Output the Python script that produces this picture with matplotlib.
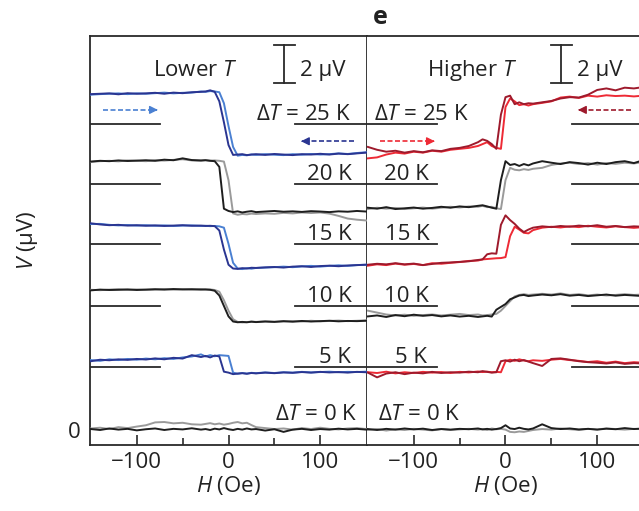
import numpy as np
import matplotlib
matplotlib.use('Agg')
import matplotlib.pyplot as plt

plt.rcParams['font.family'] = ['Open Sans', 'DejaVu Sans']
plt.rcParams['mathtext.fontset'] = 'custom'
plt.rcParams['mathtext.rm'] = 'Open Sans'
plt.rcParams['mathtext.it'] = 'Open Sans:italic'

# field sweep points (Oe)
H = [-150, -140, -130, -120, -110, -100, -90, -80, -70, -60, -50, -40, -30, -25, -20, -15,
     -10, -5, 0, 5, 10, 15, 20, 25, 30, 40, 50, 60, 70, 80, 90, 100, 110, 120, 130, 140, 150]

LEVELS = [25, 20, 15, 10, 5, 0]          # Delta T (K)
OFFSETS = [16.1, 12.95, 9.8, 6.53, 3.32, 0.0]   # vertical offset of each trace (uV)

# ---- lower T panel, voltage relative to offset (uV); DN = sweep down, UP = sweep up
L25_DN = [1.58, 1.60, 1.62, 1.57, 1.63, 1.60, 1.62, 1.65, 1.60, 1.66, 1.63, 1.68, 1.70, 1.72, 1.78, 1.70,
          1.20, 0.10, -1.10, -1.62, -1.60, -1.58, -1.63, -1.60, -1.58, -1.62, -1.57, -1.60, -1.63, -1.58,
          -1.60, -1.56, -1.60, -1.55, -1.58, -1.54, -1.50]
L25_UP = [1.55, 1.58, 1.60, 1.62, 1.58, 1.62, 1.60, 1.63, 1.66, 1.62, 1.65, 1.66, 1.72, 1.70, 1.74, 1.72,
          1.68, 1.10, -0.10, -1.20, -1.66, -1.62, -1.64, -1.60, -1.62, -1.58, -1.61, -1.63, -1.58, -1.61,
          -1.57, -1.60, -1.58, -1.54, -1.57, -1.52, -1.48]
L20_DN = [1.18, 1.22, 1.20, 1.24, 1.21, 1.23, 1.25, 1.22, 1.28, 1.25, 1.35, 1.26, 1.24, 1.25, 1.22, 1.20,
          0.90, -1.30, -1.42, -1.48, -1.44, -1.50, -1.46, -1.43, -1.48, -1.45, -1.42, -1.46, -1.44, -1.47,
          -1.43, -1.45, -1.48, -1.44, -1.46, -1.42, -1.45]
L20_UP = [1.16, 1.20, 1.22, 1.19, 1.24, 1.22, 1.20, 1.25, 1.23, 1.27, 1.30, 1.24, 1.22, 1.26, 1.23, 1.24,
          1.22, 1.18, 0.20, -1.55, -1.62, -1.58, -1.60, -1.56, -1.58, -1.55, -1.57, -1.52, -1.55, -1.50,
          -1.53, -1.50, -1.56, -1.68, -1.82, -1.88, -1.92]
L15_DN = [1.08, 1.02, 0.98, 1.00, 0.96, 0.98, 0.95, 0.97, 0.94, 0.96, 0.98, 0.95, 0.96, 0.94, 0.95, 0.93,
          0.70, -0.30, -1.10, -1.30, -1.32, -1.28, -1.30, -1.26, -1.27, -1.24, -1.22, -1.25, -1.20, -1.18,
          -1.22, -1.17, -1.15, -1.18, -1.14, -1.12, -1.10]
L15_UP = [1.04, 1.05, 1.00, 0.97, 0.99, 0.96, 0.98, 0.95, 0.97, 0.94, 0.96, 0.97, 0.94, 0.95, 0.93, 0.94,
          0.92, 0.85, 0.00, -1.00, -1.30, -1.33, -1.28, -1.31, -1.27, -1.25, -1.23, -1.20, -1.23, -1.19,
          -1.16, -1.20, -1.16, -1.13, -1.16, -1.12, -1.10]
L10_DN = [0.82, 0.86, 0.84, 0.85, 0.87, 0.84, 0.86, 0.88, 0.86, 0.89, 0.87, 0.88, 0.86, 0.87, 0.85, 0.80,
          0.55, 0.00, -0.55, -0.82, -0.86, -0.84, -0.86, -0.83, -0.85, -0.82, -0.84, -0.80, -0.83, -0.79,
          -0.82, -0.80, -0.78, -0.81, -0.79, -0.80, -0.78]
L10_UP = [0.85, 0.83, 0.86, 0.88, 0.84, 0.87, 0.85, 0.86, 0.89, 0.86, 0.88, 0.86, 0.89, 0.86, 0.87, 0.84,
          0.75, 0.30, -0.25, -0.70, -0.84, -0.87, -0.85, -0.82, -0.84, -0.81, -0.83, -0.82, -0.80, -0.82,
          -0.78, -0.81, -0.79, -0.77, -0.80, -0.78, -0.76]
L5_DN = [0.30, 0.38, 0.35, 0.40, 0.37, 0.42, 0.39, 0.45, 0.40, 0.48, 0.44, 0.62, 0.52, 0.58, 0.50, 0.60,
         0.55, -0.25, -0.30, -0.38, -0.35, -0.33, -0.36, -0.32, -0.34, -0.30, -0.33, -0.29, -0.31, -0.27,
         -0.30, -0.26, -0.29, -0.27, -0.30, -0.26, -0.28]
L5_UP = [0.36, 0.32, 0.40, 0.36, 0.42, 0.38, 0.44, 0.40, 0.46, 0.42, 0.50, 0.55, 0.66, 0.55, 0.62, 0.56,
         0.62, 0.60, 0.58, -0.30, -0.36, -0.32, -0.35, -0.31, -0.33, -0.29, -0.32, -0.28, -0.30, -0.26,
         -0.29, -0.27, -0.25, -0.28, -0.26, -0.27, -0.25]
L0_DN = [0.05, 0.00, 0.08, 0.02, 0.06, -0.02, 0.04, 0.08, 0.00, 0.06, 0.03, 0.09, 0.02, 0.05, 0.00, 0.07,
         0.03, 0.10, 0.04, 0.00, 0.06, 0.02, 0.08, 0.03, 0.05, -0.03, 0.04, -0.10, 0.02, 0.06, 0.00, 0.05,
         0.02, 0.07, 0.03, 0.06, 0.02]
L0_UP = [0.08, 0.12, 0.05, 0.15, 0.10, 0.18, 0.25, 0.40, 0.42, 0.35, 0.38, 0.30, 0.28, 0.32, 0.36, 0.30,
         0.34, 0.28, 0.32, 0.38, 0.42, 0.35, 0.38, 0.26, 0.15, 0.10, 0.05, 0.08, 0.02, 0.10, 0.05, 0.12,
         0.06, 0.03, 0.08, 0.10, 0.05]

# ---- higher T panel
R25_DN = [-1.20, -1.35, -1.45, -1.40, -1.50, -1.42, -1.48, -1.38, -1.42, -1.30, -1.25, -1.15, -0.95, -0.80,
          -0.88, -1.05, -1.30, 0.50, 1.42, 1.50, 1.05, 1.15, 1.05, 1.10, 1.08, 1.15, 1.22, 1.35, 1.42, 1.40,
          1.55, 1.80, 1.88, 1.78, 1.92, 1.88, 1.95]
R25_UP = [-1.80, -1.75, -1.60, -1.50, -1.55, -1.45, -1.50, -1.40, -1.45, -1.35, -1.30, -1.25, -1.15, -1.05,
          -0.95, -1.15, -1.25, -1.30, 0.90, 1.35, 1.20, 1.00, 1.05, 0.98, 1.05, 1.12, 1.20, 1.40, 1.45, 1.38,
          1.50, 1.45, 1.52, 1.48, 1.50, 1.46, 1.50]
R20_DN = [-1.25, -1.30, -1.22, -1.32, -1.28, -1.24, -1.30, -1.26, -1.20, -1.25, -1.18, -1.22, -1.15, -1.12,
          -1.18, -1.25, -1.30, 0.20, 1.20, 1.00, 1.05, 0.95, 1.05, 0.98, 1.08, 1.20, 1.12, 1.05, 1.15, 1.10,
          1.02, 1.12, 1.05, 1.15, 1.20, 1.10, 1.25]
R20_UP = [-1.32, -1.25, -1.30, -1.26, -1.32, -1.28, -1.24, -1.30, -1.25, -1.20, -1.24, -1.18, -1.20, -1.15,
          -1.22, -1.20, -1.28, -1.32, 0.20, 0.85, 0.75, 0.72, 0.78, 0.74, 0.80, 0.85, 1.00, 1.08, 1.12, 1.05,
          1.10, 1.02, 1.10, 1.06, 1.12, 1.08, 1.15]
R15_DN = [-1.10, -1.05, -1.08, -1.02, -1.08, -1.04, -1.12, -1.06, -1.00, -0.98, -0.95, -0.92, -0.85, -0.82,
          -0.55, -0.50, -0.52, 1.00, 1.50, 1.25, 1.05, 0.80, 0.62, 0.75, 0.85, 0.92, 0.88, 0.94, 0.90, 0.96,
          0.92, 0.98, 0.90, 0.94, 0.88, 0.92, 0.90]
R15_UP = [-1.15, -1.08, -1.12, -1.04, -1.10, -1.06, -1.12, -1.02, -1.05, -1.00, -0.96, -0.90, -0.88, -0.82,
          -0.80, -0.78, -0.76, -0.75, -0.70, 0.40, 0.90, 0.75, 0.58, 0.55, 0.72, 0.85, 0.90, 0.86, 0.92, 0.88,
          0.95, 0.90, 0.86, 0.92, 0.88, 0.84, 0.88]
R10_DN = [-0.55, -0.50, -0.58, -0.48, -0.54, -0.46, -0.52, -0.48, -0.55, -0.50, -0.56, -0.52, -0.58, -0.55,
          -0.52, -0.56, -0.20, -0.05, 0.10, 0.35, 0.45, 0.55, 0.58, 0.52, 0.55, 0.60, 0.56, 0.62, 0.54, 0.58,
          0.52, 0.56, 0.60, 0.54, 0.58, 0.55, 0.52]
R10_UP = [-0.25, -0.35, -0.45, -0.50, -0.46, -0.52, -0.48, -0.45, -0.50, -0.46, -0.42, -0.48, -0.45, -0.50,
          -0.48, -0.45, -0.42, -0.25, 0.00, 0.25, 0.50, 0.58, 0.62, 0.58, 0.60, 0.64, 0.60, 0.66, 0.58, 0.62,
          0.56, 0.60, 0.55, 0.58, 0.62, 0.58, 0.60]
R5_DN = [-0.30, -0.55, -0.35, -0.28, -0.38, -0.30, -0.34, -0.26, -0.32, -0.28, -0.30, -0.25, -0.28, -0.22,
         -0.26, -0.30, -0.28, 0.30, 0.35, 0.28, 0.38, 0.30, 0.36, 0.28, 0.20, 0.05, 0.42, 0.45, 0.38, 0.30,
         0.25, 0.22, 0.18, 0.24, 0.16, 0.20, 0.18]
R5_UP = [-0.28, -0.32, -0.25, -0.34, -0.28, -0.32, -0.26, -0.30, -0.27, -0.32, -0.26, -0.29, -0.24, -0.27,
         -0.25, -0.28, -0.26, -0.28, 0.30, 0.38, 0.32, 0.40, 0.34, 0.30, 0.35, 0.32, 0.38, 0.42, 0.36, 0.32,
         0.26, 0.30, 0.22, 0.28, 0.20, 0.25, 0.22]
R0_DN = [0.05, 0.00, 0.06, 0.02, 0.08, 0.03, 0.07, 0.00, 0.05, 0.02, 0.06, 0.04, 0.08, 0.03, 0.06, 0.02,
         0.05, 0.10, 0.25, 0.08, 0.05, 0.12, 0.06, 0.03, 0.08, 0.30, 0.10, 0.05, 0.08, 0.03, 0.06, 0.02,
         0.07, 0.04, 0.10, 0.05, 0.08]
R0_UP = [0.00, 0.05, -0.03, 0.04, 0.00, 0.06, 0.02, -0.02, 0.05, 0.00, 0.03, 0.06, 0.02, 0.05, 0.00, 0.08,
         0.04, 0.06, 0.02, -0.10, -0.12, -0.08, -0.10, -0.05, 0.00, 0.05, 0.02, 0.08, 0.04, 0.00, 0.06, 0.03,
         0.08, 0.05, 0.02, 0.06, 0.04]

LEFT_DN = [L25_DN, L20_DN, L15_DN, L10_DN, L5_DN, L0_DN]
LEFT_UP = [L25_UP, L20_UP, L15_UP, L10_UP, L5_UP, L0_UP]
RIGHT_DN = [R25_DN, R20_DN, R15_DN, R10_DN, R5_DN, R0_DN]
RIGHT_UP = [R25_UP, R20_UP, R15_UP, R10_UP, R5_UP, R0_UP]

SCALE_UV = 2.0

BLUE_DN, BLUE_UP = '#2a3591', '#4a80d2'
RED_DN, RED_UP = '#9e1a2c', '#ee2a35'
BLACK, GREY = '#1e1e1e', '#9a9a9a'
AXC = '#2a2a2a'
TXT = '#222222'
FS = 16
LBL = ['$\\Delta T$ = %d K' % l if l in (25, 0) else '%d K' % l for l in LEVELS]

fig = plt.figure(figsize=(6.39, 5.11), dpi=100)
W, Hh = 639.0, 511.0
ax1 = fig.add_axes([90 / W, 66 / Hh, 277 / W, 409 / Hh])
ax2 = fig.add_axes([367 / W, 66 / Hh, 277 / W, 409 / Hh])


def setup(ax):
    ax.set_xlim(-151, 151)
    ax.set_ylim(-0.79, 20.74)
    ax.set_xticks([-100, 0, 100])
    ax.set_xticks([-50, 50], minor=True)
    ax.tick_params(axis='x', which='major', direction='in', length=7, width=1.2, color=AXC,
                   labelsize=FS, pad=5, labelcolor=TXT)
    ax.tick_params(axis='x', which='minor', direction='in', length=5, width=1.2, color=AXC)
    for s in ax.spines.values():
        s.set_linewidth(1.3)
        s.set_color(AXC)
    ax.set_xlabel('$H$ (Oe)', fontsize=FS, labelpad=1, color=TXT)


def panel(ax, dn_list, up_list, cols, label_pos):
    for i, (lvl, off) in enumerate(zip(LEVELS, OFFSETS)):
        cdn, cup = cols[i % 2]
        ax.plot(H, np.array(up_list[i]) + off, color=cup, lw=1.4, zorder=3)
        ax.plot(H, np.array(dn_list[i]) + off, color=cdn, lw=1.4, zorder=3)
        if lvl:
            ax.plot([-151, -75], [off, off], color=AXC, lw=1.3, zorder=2)
            ax.plot([73, 151], [off, off], color=AXC, lw=1.3, zorder=2)
        x, ha = label_pos[i]
        ax.text(x, off + (0.5 if lvl == 0 else 0.2), LBL[i], ha=ha, va='baseline',
                fontsize=FS, color=TXT)


setup(ax1)
setup(ax2)
panel(ax1, LEFT_DN, LEFT_UP, [(BLUE_DN, BLUE_UP), (BLACK, GREY)],
      [(134, 'right')] * 5 + [(140, 'right')])
panel(ax2, RIGHT_DN, RIGHT_UP, [(RED_DN, RED_UP), (BLACK, GREY)],
      [(-143, 'left'), (-83, 'right'), (-83, 'right'), (-83, 'right'), (-86, 'right'), (-139, 'left')])

ax1.set_yticks([0])
ax1.set_yticklabels(['0'])
ax1.tick_params(axis='y', length=0, labelsize=FS, pad=7, labelcolor=TXT)
ax1.set_ylabel('$V$ (μV)', fontsize=FS, labelpad=20, color=TXT)
ax2.set_yticks([])
ax2.spines['left'].set_visible(False)

# panel titles and scale bars
for ax, title in [(ax1, 'Lower $T$'), (ax2, 'Higher $T$')]:
    ax.text(-36, 18.65, title, ha='center', va='baseline', fontsize=FS, color=TXT)
    y0 = 18.25
    ax.plot([61, 61], [y0, y0 + SCALE_UV], color=AXC, lw=1.3)
    ax.plot([50, 72], [y0, y0], color=AXC, lw=1.3)
    ax.plot([50, 72], [y0 + SCALE_UV, y0 + SCALE_UV], color=AXC, lw=1.3)
    ax.text(78, 18.65, '%d μV' % SCALE_UV, ha='left', va='baseline', fontsize=FS, color=TXT)


def dashed_arrow(ax, x0, x1, y, c):
    d = 1 if x1 > x0 else -1
    ax.plot([x0, x1 - d * 6], [y, y], color=c, lw=1.2, ls=(0, (3, 1.5)))
    ax.annotate('', xy=(x1, y), xytext=(x1 - d * 8, y),
                arrowprops=dict(arrowstyle='-|>', color=c, lw=1.0, mutation_scale=12))


dashed_arrow(ax1, -137, -74, 16.85, BLUE_UP)
dashed_arrow(ax1, 137, 76, 15.2, BLUE_DN)
dashed_arrow(ax2, -137, -74, 15.2, RED_UP)
dashed_arrow(ax2, 137, 76, 16.85, RED_DN)

fig.text(380 / W, 1 - 17 / Hh, 'e', fontsize=18, fontweight='bold', ha='center', va='center',
         color=TXT)

fig.savefig('out.png', dpi=100)
